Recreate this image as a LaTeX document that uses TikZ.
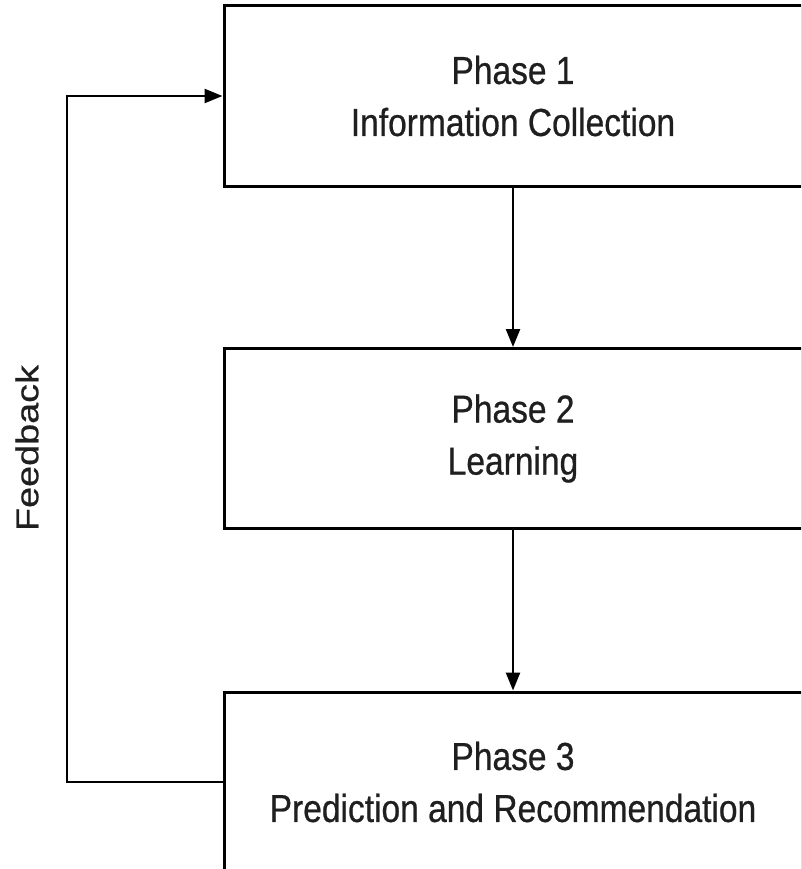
\documentclass[tikz,border=0pt]{standalone}
\usepackage{fontspec}
\setmainfont{Liberation Sans}
\newfontfamily\phasefont{Liberation Sans}[FakeStretch=0.86,FakeBold=0.6]
\newfontfamily\feedfont{Liberation Sans}[FakeStretch=1.2,FakeBold=0.6]
\usetikzlibrary{arrows.meta}

\begin{document}
\begin{tikzpicture}[x=1pt, y=-1pt]
	% Define styles
	\tikzstyle{phase}=[draw, line width=3pt, minimum width=578pt, minimum height=180pt, inner sep=0pt, align=center, text=black!88, font=\phasefont\fontsize{39}{52}\selectfont]
	\tikzstyle{flow} = [draw, line width=2.5pt, -{Triangle[length=18pt,width=14pt]}]

	\useasboundingbox (0,0) rectangle (801,869);
	\clip (0,0) rectangle (801,869);

	% Phases
	\node[phase] (p1) at (513,96) {Phase 1\\Information Collection};
	\node[phase] (p2) at (513,438.5) {Phase 2\\Learning};
	\node[phase] (p3) at (513,782) {Phase 3\\Prediction and Recommendation};

	% Flow between phases
	\draw[flow] (p1) -- (p2);
	\draw[flow] (p2) -- (p3);

	% Feedback loop
	\coordinate (fbline) at (67,440);
	\draw[flow] (p3.west) -- (p3.west -| fbline) |- (p1.west);
	\node[rotate=90, text=black!88, font=\feedfont\fontsize{31.5}{36}\selectfont] (fbtext) at (27,448) {Feedback};
\end{tikzpicture}
\end{document}
